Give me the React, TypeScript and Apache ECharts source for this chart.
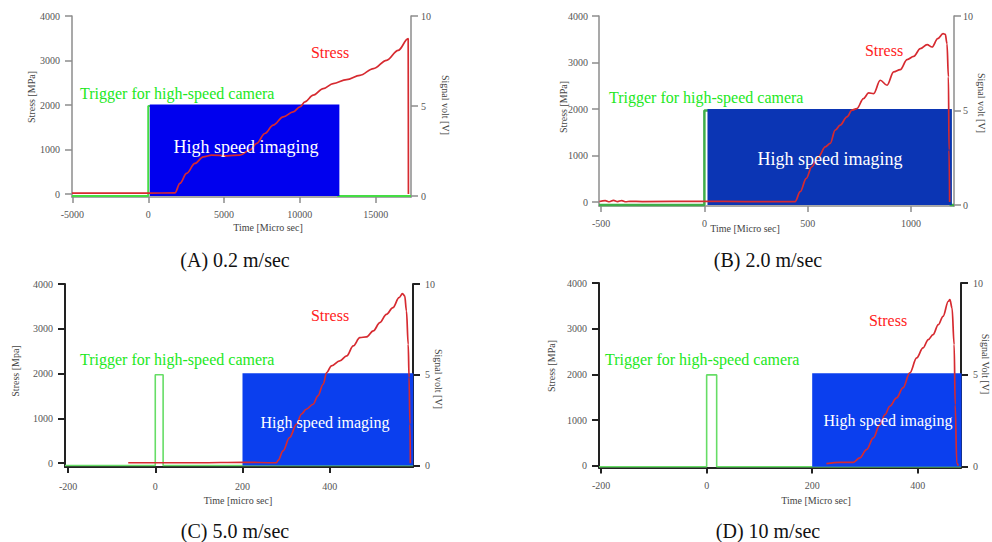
import React, { useEffect, useRef } from "react";
import * as echarts from "echarts";

// ---------- Data ----------
// (A) 0.2 m/sec
const timeA = [-5030, 0, 1760, 2090, 2532, 3080, 3627, 4180, 5170, 6047, 6706, 7148, 7695, 8243, 8902, 9561, 10003, 10333, 10880, 11540, 12199, 13082, 13960, 14857, 15720, 16487, 17145, 17160];
const stressA = [20, 20, 25, 240, 464, 688, 836, 874, 859, 874, 986, 1136, 1360, 1547, 1733, 1845, 1957, 2069, 2220, 2369, 2481, 2571, 2668, 2818, 3004, 3228, 3491, 0];
const trigTimeA = [-5030, 0, 0, 12500, 12500, 17330];
const trigVoltA = [0, 0, 5, 5, 0, 0];
const imagingA = [100, 12500];

// (B) 2.0 m/sec
const timeB = [-508, -480, -460, -440, -420, -400, -380, -360, -300, 0, 200, 439, 464, 493, 520, 552, 585, 609, 633, 657, 690, 714, 738, 770, 795, 819, 851, 884, 916, 948, 981, 1013, 1045, 1078, 1102, 1129, 1155, 1166, 1174, 1181, 1184, 1187];
const stressB = [10, 30, 5, 35, 10, 30, 5, 15, 10, 15, 10, 10, 221, 508, 758, 972, 1187, 1259, 1545, 1652, 1831, 1974, 2010, 2225, 2346, 2332, 2618, 2511, 2797, 2847, 3062, 3133, 3298, 3384, 3333, 3513, 3620, 3605, 3405, 2689, 1116, 0];
const trigTimeB = [-510, 0, 0, 1190, 1190, 1208];
const trigVoltB = [0, 0, 5, 5, 0, 0];
const imagingB = [15, 1190];

// (C) 5.0 m/sec
const timeC = [-62, 100, 200, 278, 282, 293, 308, 324, 335, 346, 362, 373, 385, 393, 404, 423, 439, 454, 469, 484, 500, 515, 530, 545, 559, 567, 572, 576, 580, 582, 584, 585];
const stressC = [10, 10, 20, 10, 67, 276, 573, 870, 1093, 1204, 1316, 1503, 1762, 2023, 2172, 2284, 2395, 2618, 2803, 2819, 2953, 3138, 3323, 3472, 3695, 3784, 3733, 3398, 2654, 1911, 870, 0];
const trigTimeC = [-207, 0, 0, 18, 18, 591];
const trigVoltC = [0, 0, 5, 5, 0, 0];
const imagingC = [200, 588];

// (D) 10 m/sec
const timeD = [227, 253, 278, 290, 303, 316, 328, 338, 347, 360, 372, 385, 398, 410, 420, 429, 439, 448, 458, 461, 465, 469, 471, 474, 477];
const stressD = [44, 74, 74, 169, 350, 607, 898, 1117, 1301, 1483, 1702, 2030, 2359, 2578, 2760, 2869, 3088, 3271, 3600, 3636, 3454, 2650, 1336, 59, 0];
const trigTimeD = [-204, 0, 0, 19, 19, 482];
const trigVoltD = [0, 0, 5, 5, 0, 0];
const imagingD = [200, 480];

// Tick labels
const xTicksA = [-5000, 0, 5000, 10000, 15000];
const xTicksB = [-500, 0, 500, 1000];
const xTicksC = [-200, 0, 200, 400];
const xTicksD = [-200, 0, 200, 400];
const stressTicks = [0, 1000, 2000, 3000, 4000];
const voltTicks = [0, 5, 10];

const captions = ["(A) 0.2 m/sec", "(B) 2.0 m/sec", "(C) 5.0 m/sec", "(D) 10 m/sec"];
const stressNames = ["Stress [MPa]", "Stress [MPa]", "Stress [Mpa]", "Stress [MPa]"];
const voltNames = ["Signal volt [V]", "Signal volt [V]", "Signal volt [V]", "Signal Volt [V]"];
const timeNames = ["Time [Micro sec]", "Time [Micro sec]", "Time [micro sec]", "Time [Micro sec]"];

const SERIF = "'Liberation Serif', 'Times New Roman', serif";

const zip = (a: number[], b: number[]) => a.map((v, i) => [v, b[i]]);

const panels = [
  {
    time: timeA, stress: stressA, trigT: trigTimeA, trigV: trigVoltA, img: imagingA, xTicks: xTicksA,
    grid: { left: 72, top: 16, width: 339, height: 181 },
    xMin: -5030, xMax: 17330, sMin: -67, vMin: -0.05,
    axisColor: "#8c8c8c", axisWidth: 1.5, boxColor: "#0000ee", green: "#44dd44", greenW: 2,
    lblX: { left: 12, right: 10, bottom: 12 },
    trig: [80, 93], stressLbl: [330, 52], hsi: [246, 147, 18], cap: [235, 260],
    sName: [31, 97], vName: [445, 105], tName: [268, 227],
  },
  {
    time: timeB, stress: stressB, trigT: trigTimeB, trigV: trigVoltB, img: imagingB, xTicks: xTicksB,
    grid: { left: 599, top: 16, width: 355, height: 190 },
    xMin: -510, xMax: 1208, sMin: -86, vMin: -0.05,
    axisColor: "#8c8c8c", axisWidth: 1.5, boxColor: "#0b35b4", green: "#3fae4a", greenW: 2.5,
    lblX: { left: 11, right: 9, bottom: 12 },
    trig: [609, 97], stressLbl: [884, 50], hsi: [830, 159, 18], cap: [768, 260],
    sName: [563, 107], vName: [981, 103], tName: [745, 228],
  },
  {
    time: timeC, stress: stressC, trigT: trigTimeC, trigV: trigVoltC, img: imagingC, xTicks: xTicksC,
    grid: { left: 65, top: 284, width: 348, height: 183 },
    xMin: -207, xMax: 591, sMin: -85, vMin: -0.08,
    axisColor: "#222222", axisWidth: 2, boxColor: "#0b3fee", green: "#66dd66", greenW: 1.6,
    lblX: { left: 12, right: 12, bottom: 14 },
    trig: [80, 359], stressLbl: [330, 315], hsi: [325, 422, 16], cap: [235, 531],
    sName: [15, 371], vName: [438, 379], tName: [238, 500],
  },
  {
    time: timeD, stress: stressD, trigT: trigTimeD, trigV: trigVoltD, img: imagingD, xTicks: xTicksD,
    grid: { left: 599, top: 283, width: 362, height: 184.5 },
    xMin: -204, xMax: 482, sMin: -40, vMin: -0.04,
    axisColor: "#222222", axisWidth: 2, boxColor: "#0b3fee", green: "#66dd66", greenW: 1.6,
    lblX: { left: 12, right: 12, bottom: 13 },
    trig: [605, 359], stressLbl: [888, 320], hsi: [888, 420, 16], cap: [768, 531],
    sName: [551, 366], vName: [985, 364], tName: [816, 500],
  },
];

function buildOption() {
  const grid: any[] = [];
  const xAxis: any[] = [];
  const yAxis: any[] = [];
  const series: any[] = [];
  const graphic: any[] = [];

  const labelStyle = { fontFamily: SERIF, fontSize: 10, color: "#555" };
  const fmt = (v: number) => String(Math.round(v));

  panels.forEach((p, i) => {
    grid.push({ ...p.grid, containLabel: false });
    const lineStyle = { color: p.axisColor, width: p.axisWidth };
    xAxis.push({
      type: "value", gridIndex: i, min: p.xMin, max: p.xMax,
      axisLine: { show: true, onZero: false, lineStyle },
      axisTick: { show: true, length: 6, customValues: p.xTicks, lineStyle },
      axisLabel: { customValues: p.xTicks, formatter: fmt, margin: p.lblX.bottom, ...labelStyle },
      splitLine: { show: false },
    });
    yAxis.push({
      type: "value", gridIndex: i, position: "left", min: p.sMin, max: 4000,
      axisLine: { show: true, onZero: false, lineStyle },
      axisTick: { show: true, length: 7, customValues: stressTicks, lineStyle },
      axisLabel: { customValues: stressTicks, formatter: fmt, margin: p.lblX.left, ...labelStyle },
      splitLine: { show: false },
    });
    yAxis.push({
      type: "value", gridIndex: i, position: "right", min: p.vMin, max: 10,
      axisLine: { show: true, onZero: false, lineStyle },
      axisTick: { show: true, length: 7, customValues: voltTicks, lineStyle },
      axisLabel: { customValues: voltTicks, formatter: fmt, margin: p.lblX.right, ...labelStyle },
      splitLine: { show: false },
    });

    // trigger signal (under the imaging box)
    series.push({
      type: "line", xAxisIndex: i, yAxisIndex: 2 * i + 1,
      data: zip(p.trigT, p.trigV), showSymbol: false, silent: true,
      lineStyle: { color: p.green, width: p.greenW }, z: 1,
    });
    // high speed imaging box (slightly padded at top/right so the trigger line beneath is hidden)
    const boxColor = p.boxColor;
    series.push({
      type: "custom", xAxisIndex: i, yAxisIndex: 2 * i + 1, silent: true, z: 2,
      data: [[p.img[0], p.img[1], 0, 5]],
      encode: { x: [0, 1], y: [2, 3] },
      renderItem: (params: any, api: any) => {
        const a = api.coord([api.value(0), api.value(3)]);
        const b = api.coord([api.value(1), api.value(2)]);
        const pad = 1.6;
        return {
          type: "rect",
          shape: { x: a[0], y: a[1] - pad, width: b[0] - a[0] + pad, height: b[1] - a[1] + pad },
          style: { fill: boxColor },
        };
      },
    });
    // stress
    series.push({
      type: "line", xAxisIndex: i, yAxisIndex: 2 * i,
      data: zip(p.time, p.stress), showSymbol: false, silent: true,
      smooth: 0.35, smoothMonotone: "x",
      lineStyle: { color: "#d62a30", width: 1.7 }, z: 3,
    });

    // annotations
    graphic.push({
      type: "text", x: p.trig[0], y: p.trig[1], z: 10,
      style: { text: "Trigger for high-speed camera", font: `16px ${SERIF}`, fill: "#22e822", align: "left", verticalAlign: "middle" },
    });
    graphic.push({
      type: "text", x: p.stressLbl[0], y: p.stressLbl[1], z: 10,
      style: { text: "Stress", font: `16px ${SERIF}`, fill: "#ff1c1c", align: "center", verticalAlign: "middle" },
    });
    graphic.push({
      type: "text", x: p.hsi[0], y: p.hsi[1], z: 10,
      style: { text: "High speed imaging", font: `${p.hsi[2]}px ${SERIF}`, fill: "#ffffff", align: "center", verticalAlign: "middle" },
    });
    graphic.push({
      type: "text", x: p.cap[0], y: p.cap[1], z: 10,
      style: { text: captions[i], font: `20px ${SERIF}`, fill: "#111", align: "center", verticalAlign: "middle" },
    });
    graphic.push({
      type: "text", x: p.sName[0], y: p.sName[1], rotation: Math.PI / 2, z: 10,
      style: { text: stressNames[i], font: `10px ${SERIF}`, fill: "#444", align: "center", verticalAlign: "middle" },
    });
    graphic.push({
      type: "text", x: p.vName[0], y: p.vName[1], rotation: -Math.PI / 2, z: 10,
      style: { text: voltNames[i], font: `10px ${SERIF}`, fill: "#444", align: "center", verticalAlign: "middle" },
    });
    graphic.push({
      type: "text", x: p.tName[0], y: p.tName[1], z: 10,
      style: { text: timeNames[i], font: `10px ${SERIF}`, fill: "#444", align: "center", verticalAlign: "middle" },
    });
  });

  return {
    animation: false,
    backgroundColor: "#ffffff",
    grid, xAxis, yAxis, series, graphic,
  };
}

export default function App() {
  const ref = useRef<HTMLDivElement>(null);
  useEffect(() => {
    if (!ref.current) return;
    const chart = echarts.init(ref.current, null, { renderer: "svg" });
    chart.setOption(buildOption() as any);
    return () => chart.dispose();
  }, []);
  return (
    <div
      ref={ref}
      style={{ position: "absolute", left: 0, top: 0, width: 992, height: 542, background: "#fff" }}
    />
  );
}
